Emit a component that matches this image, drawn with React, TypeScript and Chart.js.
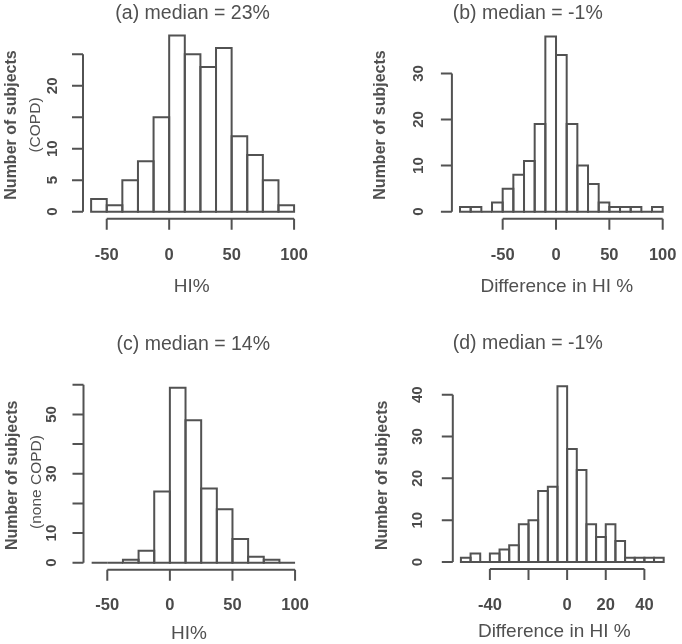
import React, { useEffect, useRef } from 'react';
import { Chart, registerables } from 'chart.js';

Chart.register(...registerables);

// ---------- data ----------
const aBreaks = [-62.5, -50, -37.5, -25, -12.5, 0, 12.5, 25, 37.5, 50, 62.5, 75, 87.5, 100];
const aCounts = [2, 1, 5, 8, 15, 28, 25, 23, 26, 12, 9, 5, 1];
const aXTicks = [-50, 0, 50, 100];
const aXLabels = ['-50', '0', '50', '100'];
const aYTicks = [0, 5, 10, 15, 20, 25];
const aYLabels = ['0', '5', '10', '', '20', ''];

const bBreaks = [-90, -80, -70, -60, -50, -40, -30, -20, -10, 0, 10, 20, 30, 40, 50, 60, 70, 80, 90, 100];
const bCounts = [1, 1, 0, 2, 5, 8, 11, 19, 38, 34, 19, 10, 6, 2, 1, 1, 1, 0, 1];
const bXTicks = [-50, 0, 50, 100];
const bXLabels = ['-50', '0', '50', '100'];
const bYTicks = [0, 10, 20, 30];
const bYLabels = ['0', '10', '20', '30'];

const cBreaks = [-62.5, -50, -37.5, -25, -12.5, 0, 12.5, 25, 37.5, 50, 62.5, 75, 87.5, 100];
const cCounts = [0, 0, 1, 4, 24, 59, 48, 25, 18, 8, 2, 1, 0];
const cXTicks = [-50, 0, 50, 100];
const cXLabels = ['-50', '0', '50', '100'];
const cYTicks = [0, 10, 20, 30, 40, 50, 60];
const cYLabels = ['0', '10', '', '30', '', '50', ''];

const dBreaks = [-55, -50, -45, -40, -35, -30, -25, -20, -15, -10, -5, 0, 5, 10, 15, 20, 25, 30, 35, 40, 45, 50];
const dCounts = [1, 2, 0, 2, 3, 4, 9, 10, 17, 18, 42, 27, 22, 9, 6, 9, 5, 1, 1, 1, 1];
const dXTicks = [-40, -20, 0, 20, 40];
const dXLabels = ['-40', '', '0', '20', '40'];
const dYTicks = [0, 10, 20, 30, 40];
const dYLabels = ['0', '10', '20', '30', '40'];

// ---------- style ----------
const W = 341;
const H = 322;
const FONT = '"Liberation Sans", Arial, Helvetica, sans-serif';
const LINE = '#525252';
const TEXT = '#505050';
const TICKTEXT = '#4a4a4a';

type Panel = {
  left: number;
  top: number;
  title: string;
  xTitle: string;
  yTitle: string;
  ySub?: string;
  breaks: number[];
  counts: number[];
  xTicks: number[];
  xLabels: string[];
  yTicks: number[];
  yLabels: string[];
  area: { left: number; right: number; top: number; bottom: number };
  pos: {
    titleX: number; titleY: number;
    xTitleX: number; xTitleY: number;
    xLabY: number;
    yTitleX: number; yTitleY: number;
    ySubX?: number; ySubY?: number; ySubSize?: number;
    yLabX: number;
  };
};

const panels: Panel[] = [
  {
    left: 0, top: 0,
    title: '(a) median = 23%', xTitle: 'HI%', yTitle: 'Number of subjects', ySub: '(COPD)',
    breaks: aBreaks, counts: aCounts, xTicks: aXTicks, xLabels: aXLabels, yTicks: aYTicks, yLabels: aYLabels,
    area: { left: 83, right: 302.2, top: 28.4, bottom: 218.7 },
    pos: { titleX: 192.6, titleY: 13.3, xTitleX: 191.7, xTitleY: 287, xLabY: 255, yTitleX: 12, yTitleY: 125, ySubX: 36, ySubY: 125, ySubSize: 15.5, yLabX: 53 },
  },
  {
    left: 341, top: 0,
    title: '(b) median = -1%', xTitle: 'Difference in HI %', yTitle: 'Number of subjects',
    breaks: bBreaks, counts: bCounts, xTicks: bXTicks, xLabels: bXLabels, yTicks: bYTicks, yLabels: bYLabels,
    area: { left: 110.9, right: 329.8, top: 29.5, bottom: 218.7 },
    pos: { titleX: 186.7, titleY: 13.3, xTitleX: 215.8, xTitleY: 287, xLabY: 255, yTitleX: 40, yTitleY: 125, yLabX: 78 },
  },
  {
    left: 0, top: 322,
    title: '(c) median = 14%', xTitle: 'HI%', yTitle: 'Number of subjects', ySub: '(none COPD)',
    breaks: cBreaks, counts: cCounts, xTicks: cXTicks, xLabels: cXLabels, yTicks: cYTicks, yLabels: cYLabels,
    area: { left: 83.5, right: 303.2, top: 58.7, bottom: 247.7 },
    pos: { titleX: 193.3, titleY: 22.7, xTitleX: 189, xTitleY: 311.7, xLabY: 283, yTitleX: 12.5, yTitleY: 153.3, ySubX: 36.5, ySubY: 160, ySubSize: 15.5, yLabX: 51.5 },
  },
  {
    left: 341, top: 322,
    title: '(d) median = -1%', xTitle: 'Difference in HI %', yTitle: 'Number of subjects',
    breaks: dBreaks, counts: dCounts, xTicks: dXTicks, xLabels: dXLabels, yTicks: dYTicks, yLabels: dYLabels,
    area: { left: 111.8, right: 330.8, top: 57.3, bottom: 247.0 },
    pos: { titleX: 186.7, titleY: 21.7, xTitleX: 213.3, xTitleY: 310, xLabY: 283, yTitleX: 41.7, yTitleY: 153.3, yLabX: 77 },
  },
];

function hText(ctx: CanvasRenderingContext2D, s: string, x: number, y: number, font: string, color: string) {
  ctx.save();
  ctx.font = font;
  ctx.fillStyle = color;
  ctx.textAlign = 'center';
  ctx.textBaseline = 'middle';
  ctx.fillText(s, x, y);
  ctx.restore();
}

function vText(ctx: CanvasRenderingContext2D, s: string, x: number, y: number, font: string, color: string) {
  ctx.save();
  ctx.translate(x, y);
  ctx.rotate(-Math.PI / 2);
  ctx.font = font;
  ctx.fillStyle = color;
  ctx.textAlign = 'center';
  ctx.textBaseline = 'middle';
  ctx.fillText(s, 0, 0);
  ctx.restore();
}

function makePlugin(p: Panel) {
  return {
    id: 'rstyle',
    afterDraw(chart: any) {
      const ctx: CanvasRenderingContext2D = chart.ctx;
      const xs = chart.scales.x;
      const ys = chart.scales.y;
      const area = chart.chartArea;
      const TICK = 11;

      // bar outlines (R style: strokes centred on bin edges)
      const meta = chart.getDatasetMeta(0);
      ctx.save();
      ctx.strokeStyle = LINE;
      ctx.lineWidth = 2;
      ctx.lineJoin = 'miter';
      meta.data.forEach((el: any) => {
        const { x, y, base, width } = el.getProps(['x', 'y', 'base', 'width'], true);
        ctx.beginPath();
        ctx.rect(x - width / 2, Math.min(y, base), width, Math.abs(base - y));
        ctx.stroke();
      });

      // y axis
      const yl = area.left;
      const y0 = ys.getPixelForValue(p.yTicks[0]);
      const y1 = ys.getPixelForValue(p.yTicks[p.yTicks.length - 1]);
      ctx.beginPath();
      ctx.moveTo(yl, y0);
      ctx.lineTo(yl, y1);
      p.yTicks.forEach((t) => {
        const py = ys.getPixelForValue(t);
        ctx.moveTo(yl, py);
        ctx.lineTo(yl - TICK, py);
      });
      ctx.stroke();

      // x axis
      const xb = area.bottom;
      const x0 = xs.getPixelForValue(p.xTicks[0]);
      const x1 = xs.getPixelForValue(p.xTicks[p.xTicks.length - 1]);
      ctx.beginPath();
      ctx.moveTo(x0, xb);
      ctx.lineTo(x1, xb);
      p.xTicks.forEach((t) => {
        const px = xs.getPixelForValue(t);
        ctx.moveTo(px, xb);
        ctx.lineTo(px, xb + TICK);
      });
      ctx.stroke();
      ctx.restore();

      // tick labels
      p.yTicks.forEach((t, i) => {
        if (p.yLabels[i]) vText(ctx, p.yLabels[i], p.pos.yLabX, ys.getPixelForValue(t), `bold 15px ${FONT}`, TICKTEXT);
      });
      p.xTicks.forEach((t, i) => {
        if (p.xLabels[i]) hText(ctx, p.xLabels[i], xs.getPixelForValue(t), p.pos.xLabY, `bold 16.5px ${FONT}`, TICKTEXT);
      });

      // titles
      hText(ctx, p.title, p.pos.titleX, p.pos.titleY, `19.5px ${FONT}`, TEXT);
      hText(ctx, p.xTitle, p.pos.xTitleX, p.pos.xTitleY, `19px ${FONT}`, TEXT);
      vText(ctx, p.yTitle, p.pos.yTitleX, p.pos.yTitleY, `bold 16px ${FONT}`, TEXT);
      if (p.ySub) vText(ctx, p.ySub, p.pos.ySubX as number, p.pos.ySubY as number, `${p.pos.ySubSize}px ${FONT}`, TEXT);
    },
  };
}

function PanelChart({ p }: { p: Panel }) {
  const ref = useRef<HTMLCanvasElement>(null);
  useEffect(() => {
    if (!ref.current) return;
    const centers = p.breaks.slice(0, -1).map((b, i) => (b + p.breaks[i + 1]) / 2);
    const data = p.counts.map((c, i) => ({ x: centers[i], y: c }));
    const bmin = p.breaks[0];
    const bmax = p.breaks[p.breaks.length - 1];
    const xpad = (bmax - bmin) * 0.04;
    const ymax = Math.max(...p.counts);
    const ypad = ymax * 0.04;
    const chart = new Chart(ref.current, {
      type: 'bar',
      data: {
        datasets: [
          {
            data: data as any,
            backgroundColor: '#ffffff',
            borderWidth: 0,
            barPercentage: 1,
            categoryPercentage: 1,
          },
        ],
      },
      options: {
        animation: false,
        responsive: false,
        devicePixelRatio: 1,
        events: [],
        layout: {
          padding: { left: p.area.left, top: p.area.top, right: W - p.area.right, bottom: H - p.area.bottom },
        },
        plugins: { legend: { display: false }, tooltip: { enabled: false }, title: { display: false } },
        scales: {
          x: {
            type: 'linear',
            display: false,
            offset: false,
            min: bmin - xpad,
            max: bmax + xpad,
            ticks: { stepSize: 1000, includeBounds: false },
          },
          y: {
            type: 'linear',
            display: false,
            min: -ypad,
            max: ymax + ypad,
            ticks: { stepSize: 1000, includeBounds: false },
          },
        },
      } as any,
      plugins: [makePlugin(p)],
    });
    return () => chart.destroy();
  }, [p]);
  return (
    <canvas
      ref={ref}
      width={W}
      height={H}
      style={{ position: 'absolute', left: p.left, top: p.top, width: W, height: H }}
    />
  );
}

export default function App() {
  return (
    <div style={{ position: 'absolute', left: 0, top: 0, width: 682, height: 644, background: '#ffffff' }}>
      {panels.map((p, i) => (
        <PanelChart key={i} p={p} />
      ))}
    </div>
  );
}
